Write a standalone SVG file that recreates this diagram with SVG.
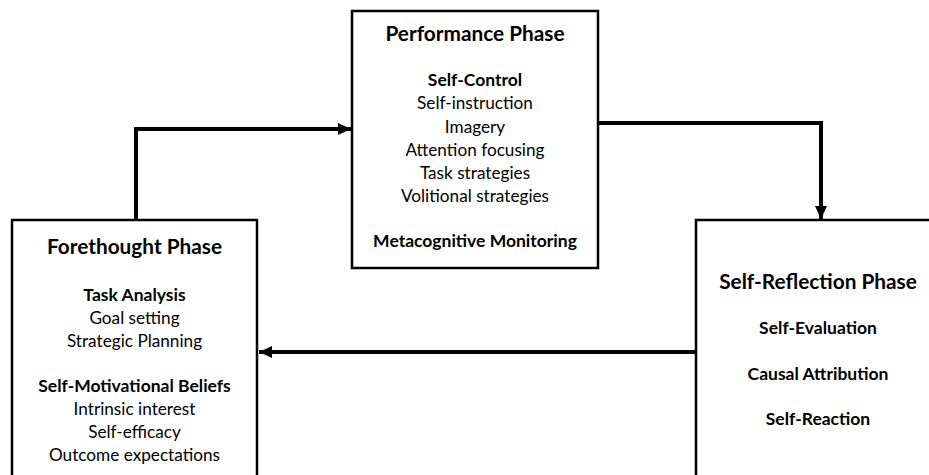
<svg xmlns="http://www.w3.org/2000/svg" width="929" height="475" viewBox="0 0 929 475">
<style>
.box{fill:#fff;stroke:#000;stroke-width:2.5}
.conn{fill:none;stroke:#000;stroke-width:4}
text{font-family:Lato,"Open Sans","Liberation Sans",sans-serif;fill:#000;text-anchor:middle}
.t{font-size:20.8px;font-weight:bold}
.h{font-size:17.5px;font-weight:bold}
.b{font-size:17.2px}
</style>
<defs>
<marker id="arr" markerUnits="userSpaceOnUse" markerWidth="14" markerHeight="14" viewBox="0 0 14 14" refX="13" refY="7" orient="auto">
<path d="M0,1 L13,7 L0,13 Z" fill="#000"/>
</marker>
</defs>
<g id="connectors">
<path class="conn" d="M136,220 V129 H351" marker-end="url(#arr)"/>
<path class="conn" d="M598,123 H821 V219" marker-end="url(#arr)"/>
<path class="conn" d="M696,352 H259" marker-end="url(#arr)"/>
</g>
<g id="performance">
<rect class="box" x="352" y="11" width="246" height="257"/>
<text class="t" x="475" y="41">Performance Phase</text>
<text class="h" x="475" y="86">Self-Control</text>
<text class="b" x="475" y="109">Self-instruction</text>
<text class="b" x="475" y="133">Imagery</text>
<text class="b" x="475" y="156">Attention focusing</text>
<text class="b" x="475" y="179">Task strategies</text>
<text class="b" x="475" y="202">Volitional strategies</text>
<text class="h" x="475" y="247">Metacognitive Monitoring</text>
</g>
<g id="forethought">
<rect class="box" x="12" y="220" width="245" height="270"/>
<text class="t" x="134.5" y="254">Forethought Phase</text>
<text class="h" x="134.5" y="301">Task Analysis</text>
<text class="b" x="134.5" y="324">Goal setting</text>
<text class="b" x="134.5" y="347">Strategic Planning</text>
<text class="h" x="134.5" y="392">Self-Motivational Beliefs</text>
<text class="b" x="134.5" y="415">Intrinsic interest</text>
<text class="b" x="134.5" y="438">Self-efficacy</text>
<text class="b" x="134.5" y="461">Outcome expectations</text>
</g>
<g id="selfreflection">
<rect class="box" x="696" y="220" width="250" height="270"/>
<text class="t" x="818" y="289">Self-Reflection Phase</text>
<text class="h" x="818" y="334">Self-Evaluation</text>
<text class="h" x="818" y="380">Causal Attribution</text>
<text class="h" x="818" y="425">Self-Reaction</text>
</g>
</svg>
